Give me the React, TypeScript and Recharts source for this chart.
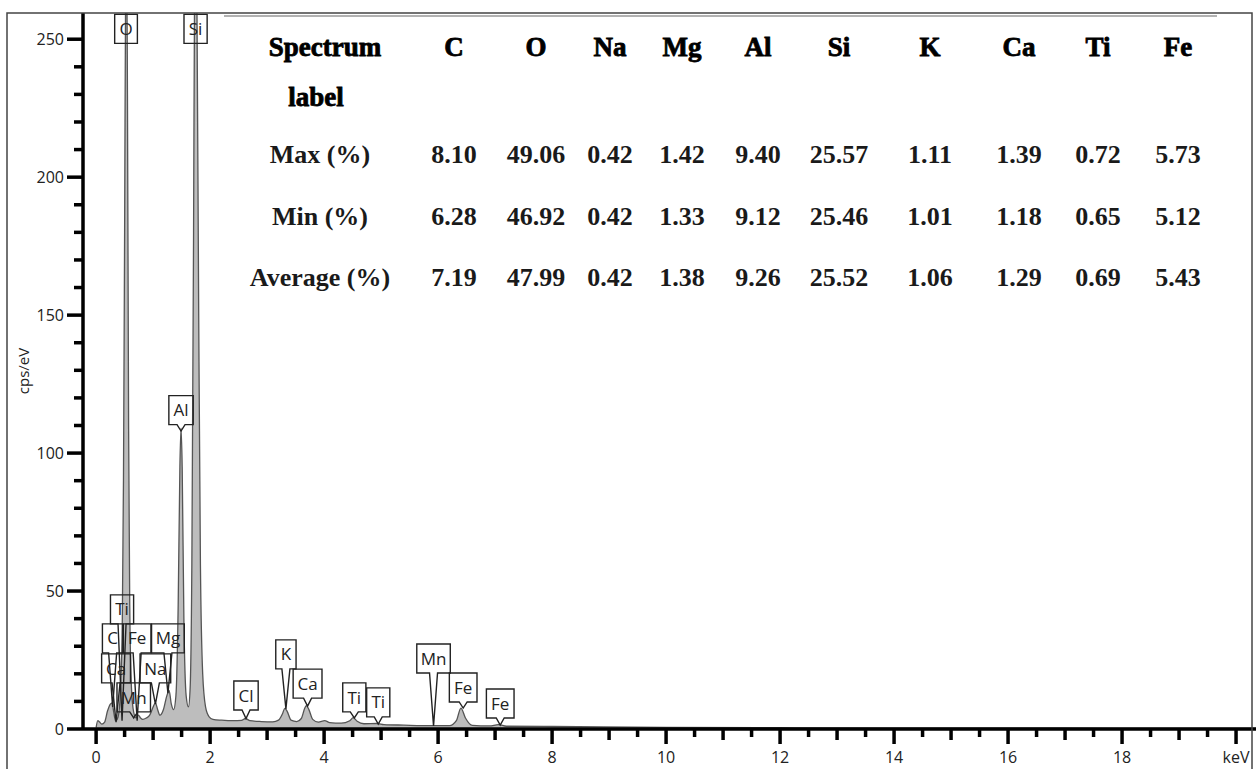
import React from "react";
import {
  Area,
  ComposedChart,
  ReferenceLine,
  XAxis,
  YAxis,
} from "recharts";

// EDS spectrum (keV, cps/eV)
const spectrumKeV = [
  0, 0.03, 0.06, 0.1, 0.15, 0.2, 0.25, 0.28, 0.31, 0.34, 0.37, 0.4, 0.43, 0.46,
  0.48, 0.5, 0.52, 0.53, 0.55, 0.57, 0.59, 0.62, 0.66, 0.7, 0.74, 0.78, 0.82,
  0.88, 0.94, 1.0, 1.04, 1.08, 1.12, 1.18, 1.24, 1.28, 1.32, 1.36, 1.4, 1.44,
  1.47, 1.49, 1.51, 1.54, 1.58, 1.62, 1.65, 1.68, 1.71, 1.73, 1.75, 1.77, 1.8,
  1.83, 1.87, 1.92, 1.98, 2.05, 2.2, 2.4, 2.55, 2.62, 2.7, 2.9, 3.1, 3.2, 3.27,
  3.31, 3.35, 3.42, 3.52, 3.6, 3.66, 3.69, 3.73, 3.8, 3.9, 4.01, 4.1, 4.3,
  4.45, 4.51, 4.58, 4.7, 4.93, 5.05, 5.4, 5.9, 6.2, 6.32, 6.4, 6.48, 6.6, 6.9,
  7.06, 7.2, 8, 10, 12, 14, 16, 18, 20.35,
];
const spectrumCps = [
  0.5, 3.0, 2.5, 1.8, 2.5, 6.5, 9.0, 9.5, 6.0, 3.0, 3.5, 6, 15, 40,
  90, 180, 280, 300, 230, 110, 45, 15, 6, 4, 5, 4, 3.5,
  4, 5, 8, 9.5, 7, 5, 7, 12, 14, 9, 7, 12, 45,
  95, 109, 95, 40, 12, 8, 15, 60, 180, 280, 300, 260, 150,
  60, 20, 8, 4.5, 3.5, 3.2, 3.0, 3.1, 3.8, 3.0, 2.7, 2.6, 3.2, 5.5,
  7.5, 6.5, 3.2, 2.7, 3.8, 7.5, 8.5, 7.2, 3.5, 2.5, 3.0, 2.3, 2.1,
  3, 4.1, 2.8, 1.9, 2.0, 1.6, 1.4, 1.2, 1.2, 3, 7.6, 4, 1.3, 1.1,
  1.6, 1.0, 0.9, 0.6, 0.45, 0.35, 0.3, 0.25, 0.2,
];

// peak markers: element, line energy, tip height, box bottom height (cps)
const peakNames = ["O", "Si", "Al", "Ti", "C", "Fe", "Mg", "Ca", "Na", "Mn", "Cl", "K", "Ca", "Ti", "Ti", "Mn", "Fe", "Fe"];
const peakEnergies = [0.525, 1.745, 1.49, 0.455, 0.29, 0.72, 1.26, 0.35, 1.04, 0.66, 2.63, 3.33, 3.71, 4.53, 4.95, 5.92, 6.44, 7.09];
const peakTips = [248.5, 248.5, 108, 3, 8, 3, 13, 2.5, 9, 4, 3.8, 7.3, 8.3, 4, 1.8, 1.1, 7.6, 1.4];
const peakBoxLevels = [248.5, 248.5, 110.3, 38.1, 27.6, 27.6, 27.6, 16.7, 16.7, 6.2, 6.9, 21.8, 11.2, 6.2, 4.4, 20.3, 9.8, 4.0];

// composition table
const tableElements = ["C", "O", "Na", "Mg", "Al", "Si", "K", "Ca", "Ti", "Fe"];
const maxPct = [8.1, 49.06, 0.42, 1.42, 9.4, 25.57, 1.11, 1.39, 0.72, 5.73];
const minPct = [6.28, 46.92, 0.42, 1.33, 9.12, 25.46, 1.01, 1.18, 0.65, 5.12];
const avgPct = [7.19, 47.99, 0.42, 1.38, 9.26, 25.52, 1.06, 1.29, 0.69, 5.43];
const rowLabels = ["Max (%)", "Min (%)", "Average (%)"];

const xTicks = Array.from({ length: 41 }, (_, i) => i * 0.5);
const yTicks = Array.from({ length: 26 }, (_, i) => i * 10);

const data = spectrumKeV.map((e, i) => ({ e, cps: spectrumCps[i] }));

const tickFont = "'Open Sans', 'Noto Sans', sans-serif";
const serif = "'Liberation Serif', 'Times New Roman', serif";

const charW: Record<string, number> = {
  M: 0.89, g: 0.56, N: 0.75, a: 0.56, C: 0.63, F: 0.55, e: 0.56, T: 0.55,
  i: 0.26, K: 0.62, l: 0.26, O: 0.78, S: 0.55, A: 0.63, n: 0.61,
};

function XTick(props: any) {
  const { x, y, payload } = props;
  const v = payload.value;
  const major = Math.abs(v % 2) < 1e-6;
  const whole = Math.abs(v % 1) < 1e-6;
  const len = major ? 15 : whole ? 11 : 8;
  return (
    <g>
      <line x1={x} y1={y} x2={x} y2={y + len} stroke="#000" strokeWidth={3.5} />
      {major && (
        <text x={x} y={y + 34} textAnchor="middle" fontSize={16} fontFamily={tickFont} fill="#222">
          {v === 20 ? "keV" : v}
        </text>
      )}
    </g>
  );
}

function YTick(props: any) {
  const { x, y, payload } = props;
  const v = payload.value;
  const major = v % 50 === 0;
  const len = major ? 16 : 9;
  return (
    <g>
      <line x1={x - len} y1={y} x2={x} y2={y} stroke="#000" strokeWidth={3.5} />
      {major && (
        <text x={x - 19} y={y} dy="0.36em" textAnchor="end" fontSize={16} fontFamily={tickFont} fill="#222">
          {v}
        </text>
      )}
    </g>
  );
}

function peakMarker(name: string) {
  return (p: any) => {
    const { x1, y1, y2 } = p;
    const tw = name.split("").reduce((s, c) => s + (charW[c] || 0.6), 0) * 15;
    const w = tw + 11;
    const h = 29;
    const left = x1 - w / 2;
    const right = x1 + w / 2;
    const top = y2 - h;
    const d =
      y1 - y2 > 1
        ? `M${left},${top}H${right}V${y2}H${x1 + 4}L${x1},${y1}L${x1 - 4},${y2}H${left}Z`
        : `M${left},${top}H${right}V${y2}H${left}Z`;
    return (
      <g>
        <path d={d} fill="none" stroke="#222" strokeWidth={1.4} />
        <text x={x1} y={top + h / 2} dy="0.36em" textAnchor="middle" fontSize={17} fontFamily={tickFont} fill="#222">
          {name}
        </text>
      </g>
    );
  };
}

const colX = [454, 536, 610, 682, 758, 839, 930, 1019, 1098, 1178];
const firstColX = 320;
const rowY = [155, 217, 278];

function Cell({ x, y, text, bold }: { x: number; y: number; text: string; bold?: boolean }) {
  return (
    <div
      style={{
        position: "absolute",
        left: x - 90,
        top: y - 18,
        width: 180,
        height: 36,
        lineHeight: "36px",
        textAlign: "center",
        fontFamily: serif,
        fontSize: bold ? 27 : 26,
        fontWeight: 700,
        color: bold ? "#000" : "#1a1a1a",
        WebkitTextStroke: bold ? "0.8px #000" : "0px",
        whiteSpace: "nowrap",
      }}
    >
      {text}
    </div>
  );
}

function YLabel(props: any) {
  const { viewBox } = props;
  const cy = viewBox.y + viewBox.height / 2;
  return (
    <text x={29} y={cy} transform={`rotate(-90, 29, ${cy})`} textAnchor="middle" fontSize={15} fontFamily={tickFont} fill="#222">
      cps/eV
    </text>
  );
}

export default function App() {
  return (
    <div style={{ position: "absolute", left: 0, top: 0, width: 1256, height: 769, background: "#fff", overflow: "hidden" }}>
      <ComposedChart width={1256} height={769} data={data} margin={{ top: 13, right: 0, left: 0, bottom: 0 }}>
        <XAxis
          dataKey="e"
          type="number"
          domain={[-0.23, 20.35]}
          ticks={xTicks}
          interval={0}
          allowDataOverflow
          height={40}
          tickSize={0}
          tickMargin={0}
          tickLine={false}
          axisLine={{ stroke: "#000", strokeWidth: 3.5 }}
          tick={(p: any) => <XTick {...p} />}
        />
        <YAxis
          type="number"
          domain={[0, 259.5]}
          ticks={yTicks}
          interval={0}
          allowDataOverflow
          width={83}
          tickSize={0}
          tickMargin={0}
          tickLine={false}
          axisLine={{ stroke: "#000", strokeWidth: 3.5 }}
          tick={(p: any) => <YTick {...p} />}
          label={(p: any) => <YLabel {...p} />}
        />
        <Area
          type="monotone"
          dataKey="cps"
          stroke="#555"
          strokeWidth={1.3}
          fill="#bdbdbd"
          fillOpacity={1}
          dot={false}
          activeDot={false}
          isAnimationActive={false}
        />
        {peakNames.map((n, i) => (
          <ReferenceLine
            key={i}
            ifOverflow="visible"
            segment={[
              { x: peakEnergies[i], y: peakTips[i] },
              { x: peakEnergies[i], y: peakBoxLevels[i] },
            ]}
            shape={peakMarker(n)}
          />
        ))}
      </ComposedChart>
      <svg width={1256} height={769} style={{ position: "absolute", left: 0, top: 0, pointerEvents: "none" }}>
        <rect x={7} y={13} width={1245} height={800} fill="none" stroke="#444" strokeWidth={1.5} />
        <line x1={224} y1={16} x2={1217} y2={16} stroke="#999" strokeWidth={1.5} />
      </svg>
      <Cell x={firstColX + 5} y={47} text="Spectrum" bold />
      <Cell x={firstColX - 4} y={97} text="label" bold />
      {tableElements.map((el, i) => (
        <Cell key={el} x={colX[i]} y={47} text={el} bold />
      ))}
      {[maxPct, minPct, avgPct].map((row, r) => (
        <React.Fragment key={r}>
          <Cell x={firstColX} y={rowY[r]} text={rowLabels[r]} />
          {row.map((v, i) => (
            <Cell key={i} x={colX[i]} y={rowY[r]} text={v.toFixed(2)} />
          ))}
        </React.Fragment>
      ))}
    </div>
  );
}
